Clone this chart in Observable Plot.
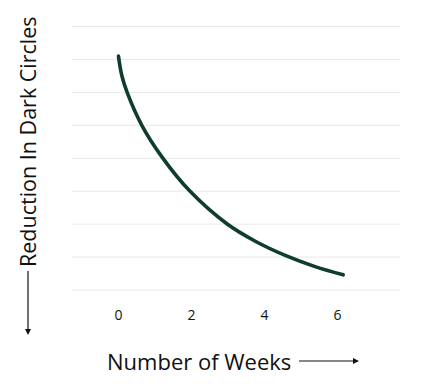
<!DOCTYPE html>
<html>
<head>
<meta charset="utf-8">
<script src="https://cdn.jsdelivr.net/npm/d3@7"></script>
<script src="https://cdn.jsdelivr.net/npm/@observablehq/plot@0.6"></script>
<style>
  html, body { margin: 0; padding: 0; background: #fff; }
  #wrap { position: relative; width: 426px; height: 388px; font-family: "Open Sans", sans-serif; }
  #wrap svg.plot { position: absolute; left: 0; top: 0; }
  .xlab { position: absolute; left: 107px; top: 346px; font-size: 22px; color: #111; white-space: nowrap; display: flex; align-items: center; }
  .ylab { position: absolute; left: 13px; top: 335px; transform-origin: 0 0; transform: rotate(-90deg); font-size: 21.5px; color: #111; white-space: nowrap; display: flex; align-items: center; }
</style>
</head>
<body>
<div id="wrap">
  <div class="ylab"><svg width="64" height="10" style="margin-right:4px"><line x1="4" y1="5" x2="64" y2="5" stroke="#111" stroke-width="1.2"/><path d="M0,5 L6,2 L6,8 Z" fill="#111"/></svg><span>Reduction In Dark Circles</span></div>
  <div class="xlab"><span>Number of Weeks</span><svg width="60" height="10" style="margin-left:8px"><line x1="0" y1="5" x2="54" y2="5" stroke="#111" stroke-width="1.2"/><path d="M60,5 L54,2 L54,8 Z" fill="#111"/></svg></div>
</div>
<script>
const weeks = [0, 0.09, 0.24, 0.64, 1.21, 1.95, 2.97, 3.75, 4.57, 5.39, 6.16];
const reduction = [7.10, 6.52, 5.99, 5.00, 4.01, 3.01, 2.01, 1.48, 1.05, 0.71, 0.46];
const xTicks = [0, 2, 4, 6];
const yGrid = [0, 1, 2, 3, 4, 5, 6, 7, 8];

const data = weeks.map((w, i) => ({week: w, value: reduction[i]}));

const chart = Plot.plot({
  width: 426,
  height: 388,
  marginLeft: 72,
  marginRight: 26,
  marginTop: 26,
  marginBottom: 98.5,
  style: {fontFamily: "'Open Sans', sans-serif", background: "transparent"},
  x: {domain: [-1.26, 7.73]},
  y: {domain: [0, 8], axis: null},
  marks: [
    Plot.gridY(yGrid, {stroke: "#e8e8e8", strokeOpacity: 1, strokeWidth: 1}),
    Plot.axisX(xTicks, {tickSize: 0, tickPadding: 20, fontSize: 14, fill: "#111", label: null, fontWeight: 500}),
    Plot.line(data, {x: "week", y: "value", curve: "catmull-rom", stroke: "#0e3d30", strokeWidth: 3.6, strokeLinecap: "round"})
  ]
});
chart.classList.add("plot");
document.getElementById("wrap").prepend(chart);
</script>
</body>
</html>
